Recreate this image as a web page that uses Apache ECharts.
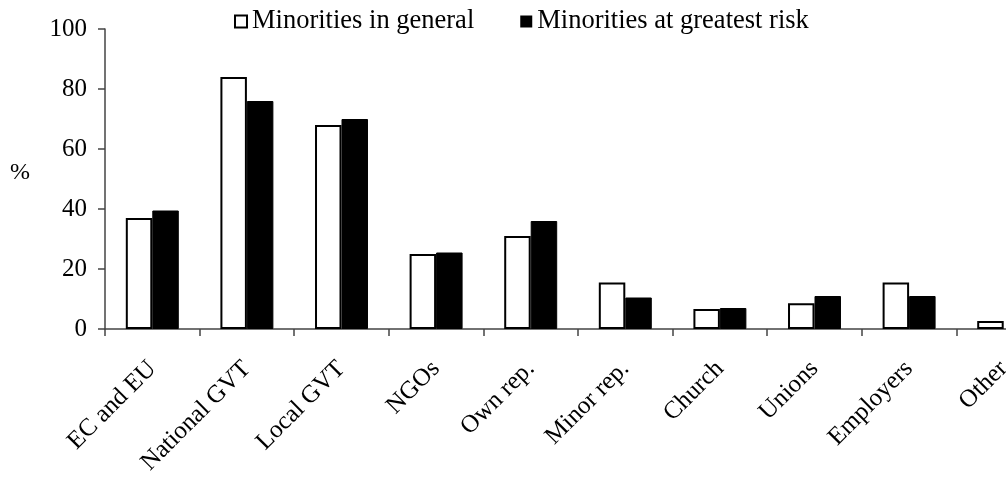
<!DOCTYPE html>
<html>
<head>
<meta charset="utf-8">
<script src="https://cdn.jsdelivr.net/npm/echarts@6/dist/echarts.min.js"></script>
<style>
html,body{margin:0;padding:0;background:#fff;overflow:hidden;width:1006px;height:481px;}
#chart{width:1060px;height:481px;}
</style>
</head>
<body>
<div id="chart"></div>
<script>
const categories = ['EC and EU','National GVT','Local GVT','NGOs','Own rep.','Minor rep.','Church','Unions','Employers','Other'];
const generalValues = [37, 84, 68, 25, 31, 15.5, 6.7, 8.6, 15.5, 2.7];
const riskValues = [39.5, 76, 70, 25.5, 36, 10.5, 7, 11, 11, null];
const seriesNames = ['Minorities in general', 'Minorities at greatest risk'];

const font = 'Liberation Serif, Times New Roman, serif';
const chart = echarts.init(document.getElementById('chart'), null, {renderer:'canvas'});
chart.setOption({
  animation: false,
  backgroundColor: '#fff',
  textStyle: {fontFamily: font, color: '#000'},
  legend: {
    left: 229, top: 3,
    itemWidth: 12, itemHeight: 12, itemGap: 46,
    textStyle: {fontFamily: font, fontSize: 26.5, color: '#000'},
    data: [
      {name: seriesNames[0], icon: 'rect', itemStyle: {color: '#fff', borderColor: '#000', borderWidth: 2}},
      {name: seriesNames[1], icon: 'rect', itemStyle: {color: '#000', borderColor: '#000', borderWidth: 0}}
    ]
  },
  graphic: [{
    type: 'text', left: 10, top: 161,
    style: {text: '%', fontFamily: font, fontSize: 24, fill: '#000'}
  }],
  grid: {left: 105, top: 29, bottom: 152, right: 9, containLabel: false},
  xAxis: {
    type: 'category',
    data: categories,
    boundaryGap: true,
    axisLine: {lineStyle: {color: '#444', width: 1.5}},
    axisTick: {show: true, alignWithLabel: false, length: 7, lineStyle: {color: '#444', width: 1.5}},
    axisLabel: {rotate: 45, margin: 36, fontFamily: font, fontSize: 25, color: '#000', interval: 0}
  },
  yAxis: {
    type: 'value', min: 0, max: 100, interval: 20,
    splitLine: {show: false},
    axisLine: {show: true, lineStyle: {color: '#444', width: 1.5}},
    axisTick: {show: true, length: 7, lineStyle: {color: '#444', width: 1.5}},
    axisLabel: {margin: 18, fontFamily: font, fontSize: 25, color: '#000'}
  },
  series: [
    {name: seriesNames[0], type: 'bar', data: generalValues, barWidth: '28%', barGap: '0%',
     itemStyle: {color: '#fff', borderColor: '#000', borderWidth: 2}},
    {name: seriesNames[1], type: 'bar', data: riskValues, barWidth: '28%', barGap: '0%',
     itemStyle: {color: '#000', borderColor: '#000', borderWidth: 1}}
  ]
});
</script>
</body>
</html>
